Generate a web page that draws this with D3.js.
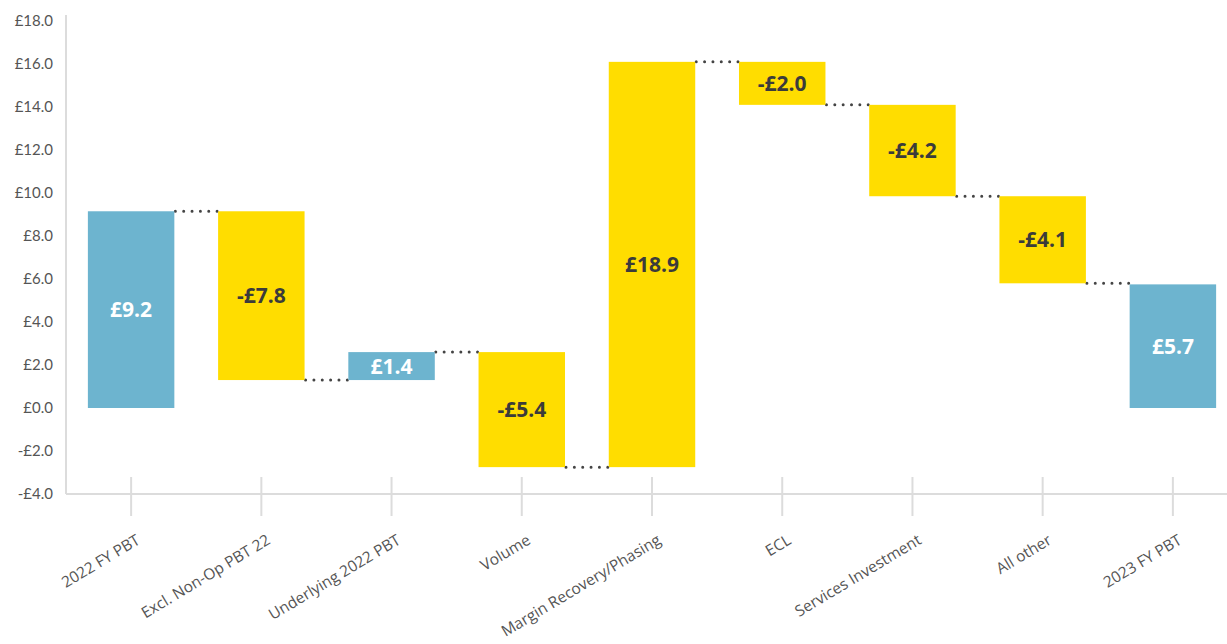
<!DOCTYPE html>
<html>
<head>
<meta charset="utf-8">
<script src="https://cdn.jsdelivr.net/npm/d3@7"></script>
<style>
  body { margin: 0; background: #fff; }
  svg { display: block; }
</style>
</head>
<body>
<div class="vis-waterfall"></div>
<script>
// categories and values
const categories = ["2022 FY PBT", "Excl. Non-Op PBT 22", "Underlying 2022 PBT", "Volume",
    "Margin Recovery/Phasing", "ECL", "Services Investment", "All other", "2023 FY PBT"]
const labels = [9.2, -7.8, 1.4, -5.4, 18.9, -2.0, -4.2, -4.1, 5.7]
// where each bar starts and ends (as drawn in the source chart)
const barFrom = [0, 9.15, 1.3, 2.6, -2.75, 16.1, 14.1, 9.85, 0]
const barTo = [9.15, 1.3, 2.6, -2.75, 16.1, 14.1, 9.85, 5.8, 5.75]
const isTotal = [true, false, true, false, false, false, false, false, true]
const yTicks = [-4, -2, 0, 2, 4, 6, 8, 10, 12, 14, 16, 18]

const width = 1227
const height = 644
const blue = "#6db4cf"
const yellow = "#ffdd00"

const data = categories.map((c, i) => ({
    name: c, label: labels[i], from: barFrom[i], to: barTo[i], total: isTotal[i]
}))

const x = d3.scaleBand()
    .domain(categories)
    .range([66, 1238])
    .paddingInner(0.336)
    .paddingOuter(0.168)

const y = d3.scaleLinear()
    .domain([-4, 18])
    .range([494, 21])

const svg = d3.select('.vis-waterfall')
    .append('svg')
    .attr('width', width)
    .attr('height', height)

const fmt = v => (v < 0 ? "-£" : "£") + Math.abs(v).toFixed(1)

// y axis
const yAxis = svg.append('g')
    .attr('transform', 'translate(66,0)')
    .call(d3.axisLeft(y).tickValues(yTicks).tickSize(0).tickPadding(13).tickFormat(fmt))
yAxis.select('.domain').remove()
yAxis.selectAll('text')
    .style('font-family', 'Lato, sans-serif')
    .style('font-size', '15px')
    .style('fill', '#555')

svg.append('line')
    .attr('x1', 66).attr('x2', 66)
    .attr('y1', y(18) - 6).attr('y2', y(-4))
    .style('stroke', '#dcdcdc')
    .style('stroke-width', 2)

// x axis
const xAxis = svg.append('g')
    .attr('transform', `translate(0,${y(-4)})`)
    .call(d3.axisBottom(x).tickSize(0).tickPadding(0))
xAxis.select('.domain').remove()
xAxis.selectAll('.tick line').remove()
xAxis.selectAll('.tick')
    .insert('line', 'text')
    .attr('y1', -17).attr('y2', 22)
    .style('stroke', '#dcdcdc')
    .style('stroke-width', 2)
xAxis.selectAll('.tick text')
    .attr('text-anchor', 'end')
    .attr('dy', 0)
    .attr('transform', 'translate(10,49) rotate(-31)')
    .style('font-family', '"Open Sans", sans-serif')
    .style('font-size', '15.5px')
    .style('fill', '#555')

svg.append('line')
    .attr('x1', 66).attr('x2', width)
    .attr('y1', y(-4)).attr('y2', y(-4))
    .style('stroke', '#dcdcdc')
    .style('stroke-width', 2)

// dotted connectors
const links = data.slice(0, -1).map((d, i) => ({ x1: x(d.name) + x.bandwidth(), x2: x(data[i + 1].name), v: d.to }))
svg.selectAll('.link')
    .data(links)
    .enter()
    .append('line')
    .attr('class', 'link')
    .attr('x1', d => d.x1 + 1)
    .attr('x2', d => d.x2 - 1)
    .attr('y1', d => y(d.v))
    .attr('y2', d => y(d.v))
    .style('stroke', '#444')
    .style('stroke-width', 3)
    .style('stroke-linecap', 'round')
    .style('stroke-dasharray', d => `0,${((d.x2 - d.x1 - 2) / 5).toFixed(2)}`)

// bars
const bars = svg.selectAll('.bar')
    .data(data)
    .enter()
    .append('g')
    .attr('class', 'bar')

bars.append('rect')
    .attr('x', d => x(d.name))
    .attr('width', x.bandwidth())
    .attr('y', d => y(Math.max(d.from, d.to)))
    .attr('height', d => Math.abs(y(d.from) - y(d.to)))
    .style('fill', d => d.total ? blue : yellow)

bars.append('text')
    .attr('x', d => x(d.name) + x.bandwidth() / 2)
    .attr('y', d => (y(d.from) + y(d.to)) / 2)
    .attr('dy', '0.36em')
    .attr('text-anchor', 'middle')
    .style('font-family', '"Open Sans", sans-serif')
    .style('font-weight', 700)
    .style('font-size', '21px')
    .style('fill', d => d.total ? '#fff' : '#3b3b3b')
    .text(d => fmt(d.label))
</script>
</body>
</html>
